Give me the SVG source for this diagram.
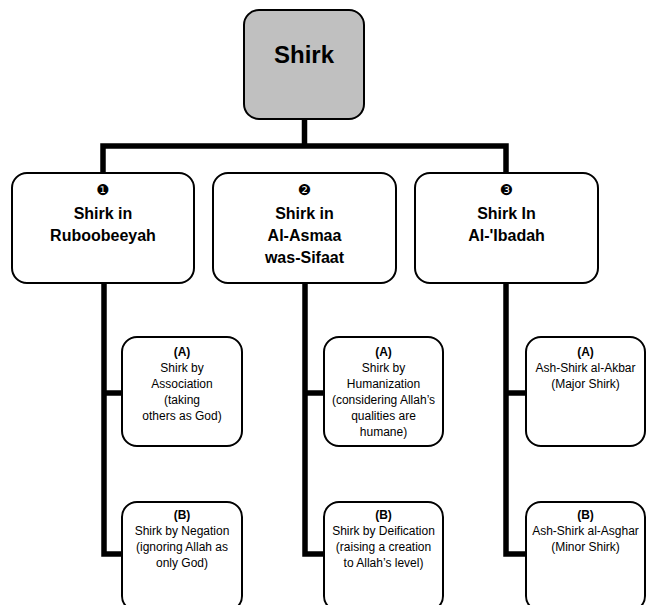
<svg xmlns="http://www.w3.org/2000/svg" width="648" height="605" viewBox="0 0 648 605">
<style>
.box{fill:#fff;stroke:#000;stroke-width:2}
.top{fill:#c0c0c0;stroke:#000;stroke-width:2}
.conn{fill:none;stroke:#000;stroke-width:5.5;stroke-linejoin:miter;stroke-linecap:butt}
text{font-family:"Liberation Sans",Arial,sans-serif;fill:#000;text-anchor:middle}
.t1{font-size:24px;font-weight:bold}
.t2{font-size:16px;font-weight:bold}
.num{font-family:"DejaVu Sans",sans-serif;font-size:15px}
.s{font-size:12px}
.sb{font-size:12px;font-weight:bold}
</style>
<rect width="648" height="605" fill="#fff"/>
<g id="connectors">
<path class="conn" d="M304.5,119 V146"/>
<path class="conn" d="M103,173 V146 H506 V173"/>
<path class="conn" d="M104,283 V554 H122 M104,393 H122"/>
<path class="conn" d="M305,283 V554 H324 M305,393 H324"/>
<path class="conn" d="M506,283 V554 H526 M506,393 H526"/>
</g>
<g id="shirk">
<rect class="top" x="244" y="10" width="120" height="109" rx="15"/>
<text class="t1" x="304" y="63">Shirk</text>
</g>
<g id="rububiyyah">
<rect class="box" x="12" y="173" width="182" height="110" rx="15"/>
<text class="num" x="103" y="195">❶</text>
<text class="t2" x="103" y="219">Shirk in</text>
<text class="t2" x="103" y="241">Ruboobeeyah</text>
</g>
<g id="asmaa">
<rect class="box" x="213" y="173" width="183" height="110" rx="15"/>
<text class="num" x="304.5" y="195">❷</text>
<text class="t2" x="304.5" y="219">Shirk in</text>
<text class="t2" x="304.5" y="241">Al-Asmaa</text>
<text class="t2" x="304.5" y="263">was-Sifaat</text>
</g>
<g id="ibadah">
<rect class="box" x="415" y="173" width="183" height="110" rx="15"/>
<text class="num" x="506.5" y="195">❸</text>
<text class="t2" x="506.5" y="219">Shirk In</text>
<text class="t2" x="506.5" y="241">Al-'Ibadah</text>
</g>
<g id="association">
<rect class="box" x="122" y="337" width="120" height="109" rx="15"/>
<text class="sb" x="182" y="356">(A)</text>
<text class="s" x="182" y="372">Shirk by</text>
<text class="s" x="182" y="388">Association</text>
<text class="s" x="182" y="404">(taking</text>
<text class="s" x="182" y="420">others as God)</text>
</g>
<g id="negation">
<rect class="box" x="122" y="502" width="120" height="109" rx="15"/>
<text class="sb" x="182" y="519">(B)</text>
<text class="s" x="182" y="535">Shirk by Negation</text>
<text class="s" x="182" y="551">(ignoring Allah as</text>
<text class="s" x="182" y="567">only God)</text>
</g>
<g id="humanization">
<rect class="box" x="324" y="337" width="119" height="109" rx="15"/>
<text class="sb" x="383.5" y="356">(A)</text>
<text class="s" x="383.5" y="372">Shirk by</text>
<text class="s" x="383.5" y="388">Humanization</text>
<text class="s" x="383.5" y="404">(considering Allah’s</text>
<text class="s" x="383.5" y="420">qualities are</text>
<text class="s" x="383.5" y="436">humane)</text>
</g>
<g id="deification">
<rect class="box" x="324" y="502" width="119" height="109" rx="15"/>
<text class="sb" x="383.5" y="519">(B)</text>
<text class="s" x="383.5" y="535">Shirk by Deification</text>
<text class="s" x="383.5" y="551">(raising a creation</text>
<text class="s" x="383.5" y="567">to Allah’s level)</text>
</g>
<g id="akbar">
<rect class="box" x="526" y="337" width="119" height="109" rx="15"/>
<text class="sb" x="585.5" y="356">(A)</text>
<text class="s" x="585.5" y="372">Ash-Shirk al-Akbar</text>
<text class="s" x="585.5" y="388">(Major Shirk)</text>
</g>
<g id="asghar">
<rect class="box" x="526" y="502" width="119" height="109" rx="15"/>
<text class="sb" x="585.5" y="519">(B)</text>
<text class="s" x="585.5" y="535">Ash-Shirk al-Asghar</text>
<text class="s" x="585.5" y="551">(Minor Shirk)</text>
</g>
</svg>
